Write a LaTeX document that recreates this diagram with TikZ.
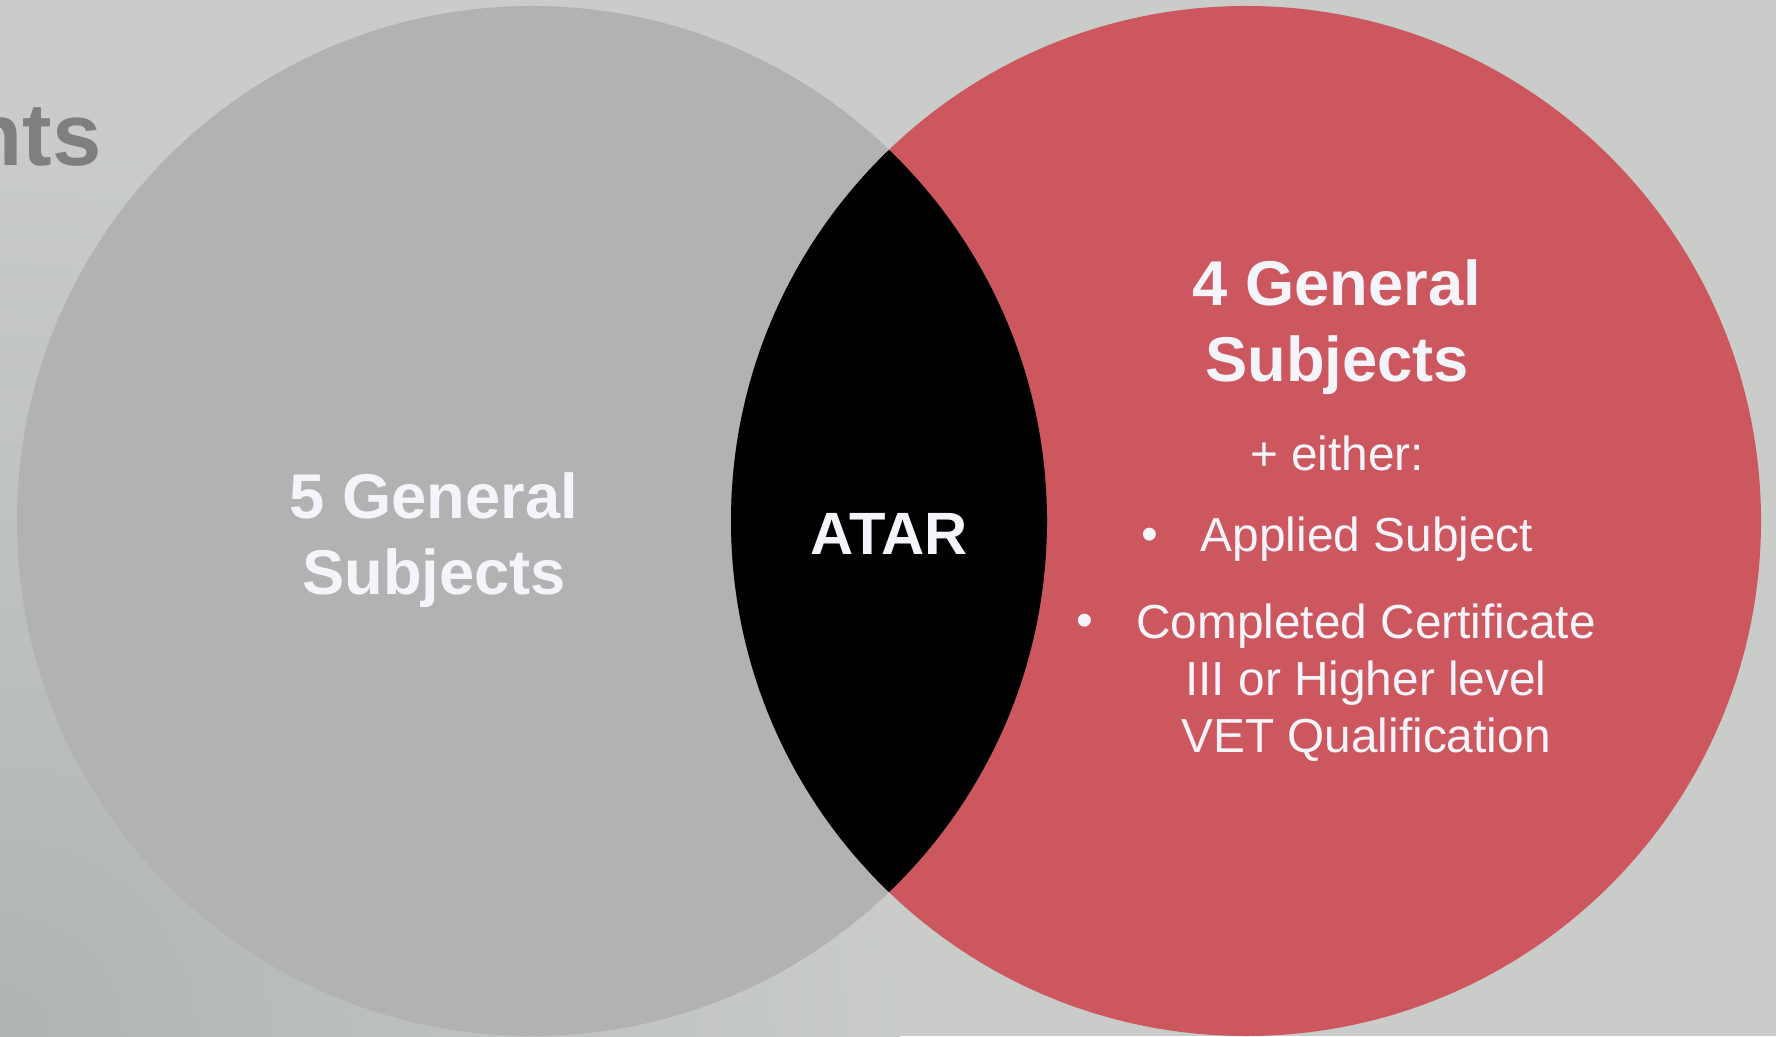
\documentclass[tikz,border=0pt]{standalone}
\usepackage{fontspec}
\setmainfont{Liberation Sans}
\definecolor{wallgrey}{RGB}{201,204,201}
\definecolor{wallshade}{RGB}{176,181,179}
\definecolor{discgrey}{RGB}{178,178,178}
\definecolor{discred}{RGB}{205,87,95}
\definecolor{inkwhite}{RGB}{244,244,250}
\definecolor{titlegrey}{RGB}{127,127,127}
\tikzset{
  disc/.style={circle, inner sep=0pt, minimum size=10.3cm},
  headtxt/.style={text=inkwhite, align=center, font=\bfseries\fontsize{18}{21.6}\selectfont},
  bodytxt/.style={text=inkwhite, align=center, font=\fontsize{13.6}{16.2}\selectfont},
}
\begin{document}
\begin{tikzpicture}
\fill[wallgrey] (0,0) rectangle (17.76,10.36);
\useasboundingbox (0,0) rectangle (17.76,10.36);
\begin{scope}
\clip (0,0) rectangle (17.76,10.36);
\shade[inner color=wallshade, outer color=wallgrey] (0,0) circle (9);
\end{scope}
\node[anchor=base east, inner sep=0pt, text=titlegrey, font=\bfseries\fontsize{25.2}{30}\selectfont] (head) at (1.02,8.70){nts};
% the two circles
\node[disc, fill=discgrey] (gen5) at (5.32,5.15){};
\node[disc, fill=discred] (gen4) at (12.46,5.15){};
% overlap
\begin{scope}
\clip (gen5.center) circle (5.15);
\fill[black] (gen4.center) circle (5.15);
\end{scope}
\node[headtxt] (lbl5) at (4.34,4.96){5 General\\Subjects};
\node[headtxt, font=\bfseries\fontsize{17}{20}\selectfont] (atar) at (8.89,5.02){ATAR};
\node[headtxt] (lbl4) at (13.37,7.09){4 General\\Subjects};
\node[bodytxt] (either) at (13.37,5.83){+ either:};
\node[bodytxt] (bul1) at (11.50,4.97){•};
\node[bodytxt] (opt1) at (13.67,4.97){Applied Subject};
\node[bodytxt] (bul2) at (10.85,4.11){•};
\node[bodytxt] (opt2) at (13.66,3.53){Completed Certificate\\III or Higher level\\VET Qualification};
\end{tikzpicture}
\end{document}
